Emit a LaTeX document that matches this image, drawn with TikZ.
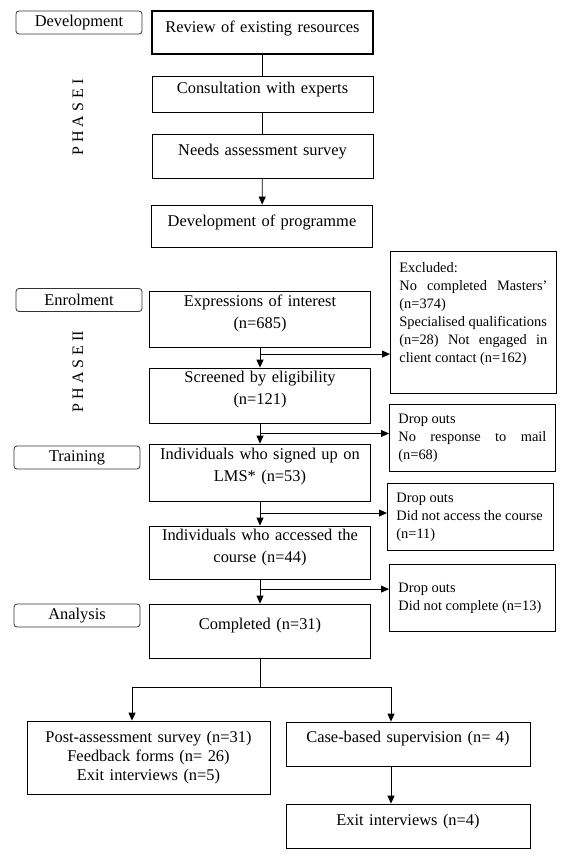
\documentclass[tikz,border=0pt]{standalone}
\usepackage{fontspec}
\setmainfont{Liberation Serif}
\usetikzlibrary{arrows.meta,calc}
\setlength{\parindent}{0pt}
\newcommand{\liftbox}[1]{\par\vspace{#1}}

\begin{document}
\begin{tikzpicture}[x=1pt,y=-1pt,
    box/.style={draw,line width=0.8pt,inner xsep=4pt,inner ysep=0pt,text width=213pt,align=center,
      font=\fontsize{16.4}{22}\selectfont},
    lift/.style={execute at end node={\liftbox{#1}}},
    tag/.style={draw=black!80,line width=0.8pt,rounded corners=3pt,minimum width=126pt,
      minimum height=23pt,inner sep=0pt,font=\fontsize{16.4}{20}\selectfont},
    side/.style={draw,line width=0.8pt,anchor=north west,inner xsep=9pt,inner ysep=4pt,
      text width=148pt,align=justify,minimum height=67pt,font=\fontsize{14.4}{18}\selectfont},
    arr/.style={-{Triangle[length=8pt,width=7pt]},line width=0.8pt},
    ln/.style={line width=0.8pt},
    phase/.style={rotate=90,font=\fontsize{16}{16}\selectfont}]
    \useasboundingbox (0,0) rectangle (578,856);

    % stage labels
    \node[tag] (tdev) at (79,22.5) {Development};
    \node[tag] (tenr) at (79,300) {Enrolment};
    \node[tag] (ttra) at (77,457.5) {Training};
    \node[tag] (tana) at (77,615.5) {Analysis};
    \node[phase] (ph1) at (78,117.5) {P H A S E I};
    \node[phase] (ph2) at (78,371.5) {P H A S E II};

    % phase I
    \node[box,line width=2pt,minimum height=43pt,lift=8pt] (rev) at (262.5,32.5) {Review of existing resources};
    \node[box,minimum height=36pt,lift=8pt] (con) at (262.5,94) {Consultation with experts};
    \node[box,minimum height=44pt,lift=8pt] (nee) at (262.5,156) {Needs assessment survey};
    \node[box,minimum height=42pt,lift=8pt] (dev) at (262,226) {Development of programme};
    \draw[ln] (rev) -- (con);
    \draw[ln] (con) -- (nee);
    \draw[arr] (nee) -- (dev);

    % phase II
    \node[box,minimum height=56pt,lift=12pt] (exp) at (260,319) {Expressions of interest\\(n=685)};
    \node[box,minimum height=55pt,lift=11pt] (scr) at (260,395.5) {Screened by eligibility\\(n=121)};
    \node[box,minimum height=57pt,lift=11pt] (sig) at (260,472.5) {Individuals who signed up on\\LMS* (n=53)};
    \node[box,minimum height=53pt,lift=10pt] (acc) at (260,552.5) {Individuals who accessed the\\course (n=44)};
    \node[box,minimum height=54pt,lift=10pt] (com) at (260,631) {Completed (n=31)};

    \node[side,minimum height=142pt,lift=17pt] (ex) at (390,251) {Excluded:\\
      No completed Masters'\linebreak (n=374)\\
      Specialised qualifications\\
      (n=28) Not engaged in\linebreak client contact (n=162)};
    \node[side] (d1) at (389,404) {Drop outs\\No response to mail\linebreak (n=68)};
    \node[side] (d2) at (387,483) {Drop outs\\Did not access the course\\(n=11)};
    \node[side] (d3) at (389,564) {Drop outs\\Did not complete (n=13)};

    \draw[arr] (exp) -- (scr);
    \draw[arr] (scr) -- (sig);
    \draw[arr] (sig) -- (acc);
    \draw[arr] (acc) -- (com);
    \coordinate (b1) at ($(exp.south)!0.33!(scr.north)$);
    \coordinate (b2) at ($(scr.south)!0.5!(sig.north)$);
    \coordinate (b3) at ($(sig.south)!0.48!(acc.north)$);
    \coordinate (b4) at ($(acc.south)!0.4!(com.north)$);
    \draw[arr] (b1) -- (b1 -| ex.west);
    \draw[arr] (b2) -- (b2 -| d1.west);
    \draw[arr] (b3) -- (b3 -| d2.west);
    \draw[arr] (b4) -- (b4 -| d3.west);

    % outcomes
    \node[box,text width=235pt,minimum height=73pt,font=\fontsize{16.4}{19}\selectfont] (pos) at (148.5,757.5)
      {Post-assessment survey (n=31)\\Feedback forms (n= 26)\\Exit interviews (n=5)};
    \node[box,text width=236pt,minimum height=44pt,lift=10pt] (cas) at (408,744) {Case-based supervision (n= 4)};
    \node[box,text width=236pt,minimum height=44pt,lift=8pt] (exi) at (408,826) {Exit interviews (n=4)};

    \coordinate (split) at ($(com.south)+(0,29)$);
    \coordinate (lft) at ($(split)+(-128,0)$);
    \coordinate (rgt) at ($(split)+(131,0)$);
    \draw[ln] (com) -- (split);
    \draw[ln] (lft) -- (rgt);
    \draw[arr] (lft) -- (lft |- pos.north);
    \draw[arr] (rgt) -- (rgt |- cas.north);
    \draw[arr] (rgt |- cas.south) -- (rgt |- exi.north);
\end{tikzpicture}
\end{document}
